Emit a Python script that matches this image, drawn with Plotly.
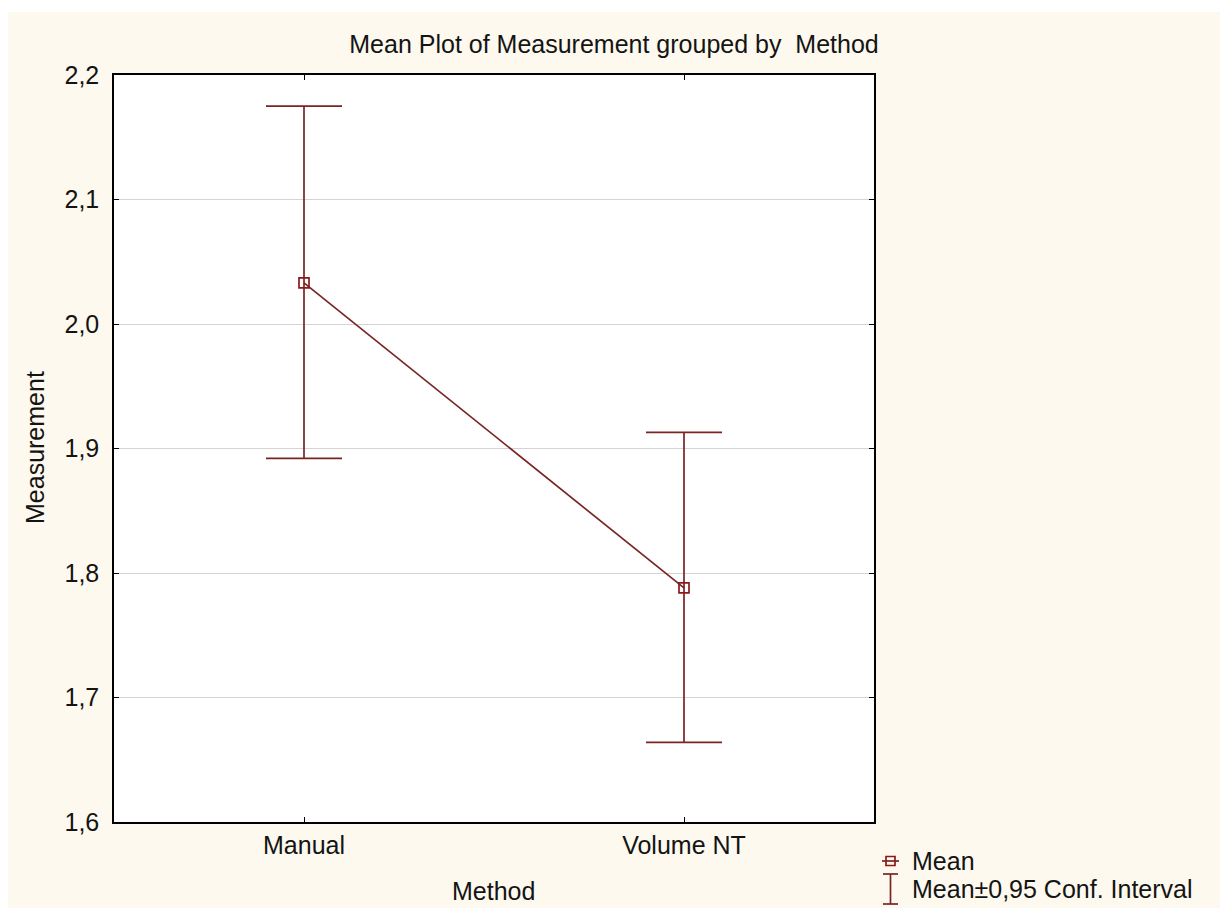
import plotly.graph_objects as go

# ---- data ----
methods = ["Manual", "Volume NT"]
means = [2.033, 1.788]
ci_upper = [2.175, 1.913]
ci_lower = [1.892, 1.664]
y_ticks = [1.6, 1.7, 1.8, 1.9, 2.0, 2.1, 2.2]

# ---- layout constants ----
W, H = 1220, 908
L, R, T, B = 114, 1220 - 874, 75, 908 - 822
PW, PH = W - L - R, H - T - B
FONT = "Liberation Sans, Arial, sans-serif"
TXT = "#141414"
LINE_COL = "#7a2424"
CREAM = "#fdf9ee"
FS = 25


def px(x):
    return (x - L) / PW


def py(y):
    return (H - B - y) / PH


err_plus = [u - m for u, m in zip(ci_upper, means)]
err_minus = [m - l for m, l in zip(means, ci_lower)]

fig = go.Figure()
fig.add_trace(go.Scatter(
    x=methods, y=means, mode="lines+markers",
    line=dict(color=LINE_COL, width=1.7),
    marker=dict(symbol="square-open", size=10, color="#8a1a1a", line=dict(width=1.7)),
    error_y=dict(type="data", symmetric=False, array=err_plus, arrayminus=err_minus,
                 color=LINE_COL, thickness=1.7, width=38),
    showlegend=False,
))

shapes = [
    # white border strips (top / left)
    dict(type="rect", xref="paper", yref="paper", x0=px(0), x1=px(W), y0=py(12), y1=py(0),
         fillcolor="white", line=dict(width=0), layer="below"),
    dict(type="rect", xref="paper", yref="paper", x0=px(0), x1=px(8), y0=py(H), y1=py(0),
         fillcolor="white", line=dict(width=0), layer="below"),
    # legend glyph: mean (line with square)
    dict(type="line", xref="paper", yref="paper", x0=px(882), x1=px(899), y0=py(861), y1=py(861),
         line=dict(color=LINE_COL, width=1.7)),
    dict(type="rect", xref="paper", yref="paper", x0=px(886), x1=px(895), y0=py(865.5), y1=py(856.5),
         line=dict(color="#8a1a1a", width=1.7), fillcolor="rgba(0,0,0,0)"),
    # legend glyph: I-beam
    dict(type="line", xref="paper", yref="paper", x0=px(890.5), x1=px(890.5), y0=py(904), y1=py(874),
         line=dict(color=LINE_COL, width=1.7)),
    dict(type="line", xref="paper", yref="paper", x0=px(883), x1=px(898), y0=py(874), y1=py(874),
         line=dict(color=LINE_COL, width=1.7)),
    dict(type="line", xref="paper", yref="paper", x0=px(883), x1=px(898), y0=py(904), y1=py(904),
         line=dict(color=LINE_COL, width=1.7)),
]

annotations = [
    dict(text="Measurement", xref="paper", yref="paper", x=px(35), y=py(448), textangle=-90,
         showarrow=False, font=dict(size=FS, color=TXT, family=FONT), xanchor="center", yanchor="middle"),
    dict(text="Method", xref="paper", yref="paper", x=px(493), y=py(891),
         showarrow=False, font=dict(size=FS, color=TXT, family=FONT), xanchor="center", yanchor="middle"),
    dict(text="Mean", xref="paper", yref="paper", x=px(910), y=py(861),
         showarrow=False, font=dict(size=FS, color=TXT, family=FONT), xanchor="left", yanchor="middle"),
    dict(text="Mean±0,95 Conf. Interval", xref="paper", yref="paper", x=px(910), y=py(889),
         showarrow=False, font=dict(size=FS, color=TXT, family=FONT), xanchor="left", yanchor="middle"),
]

fig.update_layout(
    width=W, height=H,
    margin=dict(l=L, r=R, t=T, b=B, pad=0),
    paper_bgcolor=CREAM, plot_bgcolor="white",
    separators=", ",
    font=dict(family=FONT, size=FS, color=TXT),
    title=dict(text="Mean Plot of Measurement grouped by\u00a0\u00a0Method",
               x=614 / W, xanchor="center", y=1 - 44 / H, yanchor="middle", yref="container",
               font=dict(size=FS, color=TXT, family=FONT)),
    shapes=shapes, annotations=annotations,
    showlegend=False,
)
fig.update_xaxes(
    type="category", range=[-0.5, 1.5], showgrid=False,
    showline=True, linecolor="black", linewidth=1.5, mirror="allticks",
    ticks="inside", ticklen=5, tickcolor="black", tickwidth=1.2,
    tickfont=dict(size=FS, color=TXT, family=FONT), zeroline=False,
)
fig.update_yaxes(
    range=[1.6, 2.2], tickvals=y_ticks, tickformat=".1f",
    showgrid=True, gridcolor="#d4d4d4", gridwidth=1,
    showline=True, linecolor="black", linewidth=1.5, mirror="allticks",
    ticks="inside", ticklen=5, tickcolor="black", tickwidth=1.2,
    tickfont=dict(size=FS, color=TXT, family=FONT), zeroline=False,
    ticklabelstandoff=8,
)

fig.write_html("out.html")
